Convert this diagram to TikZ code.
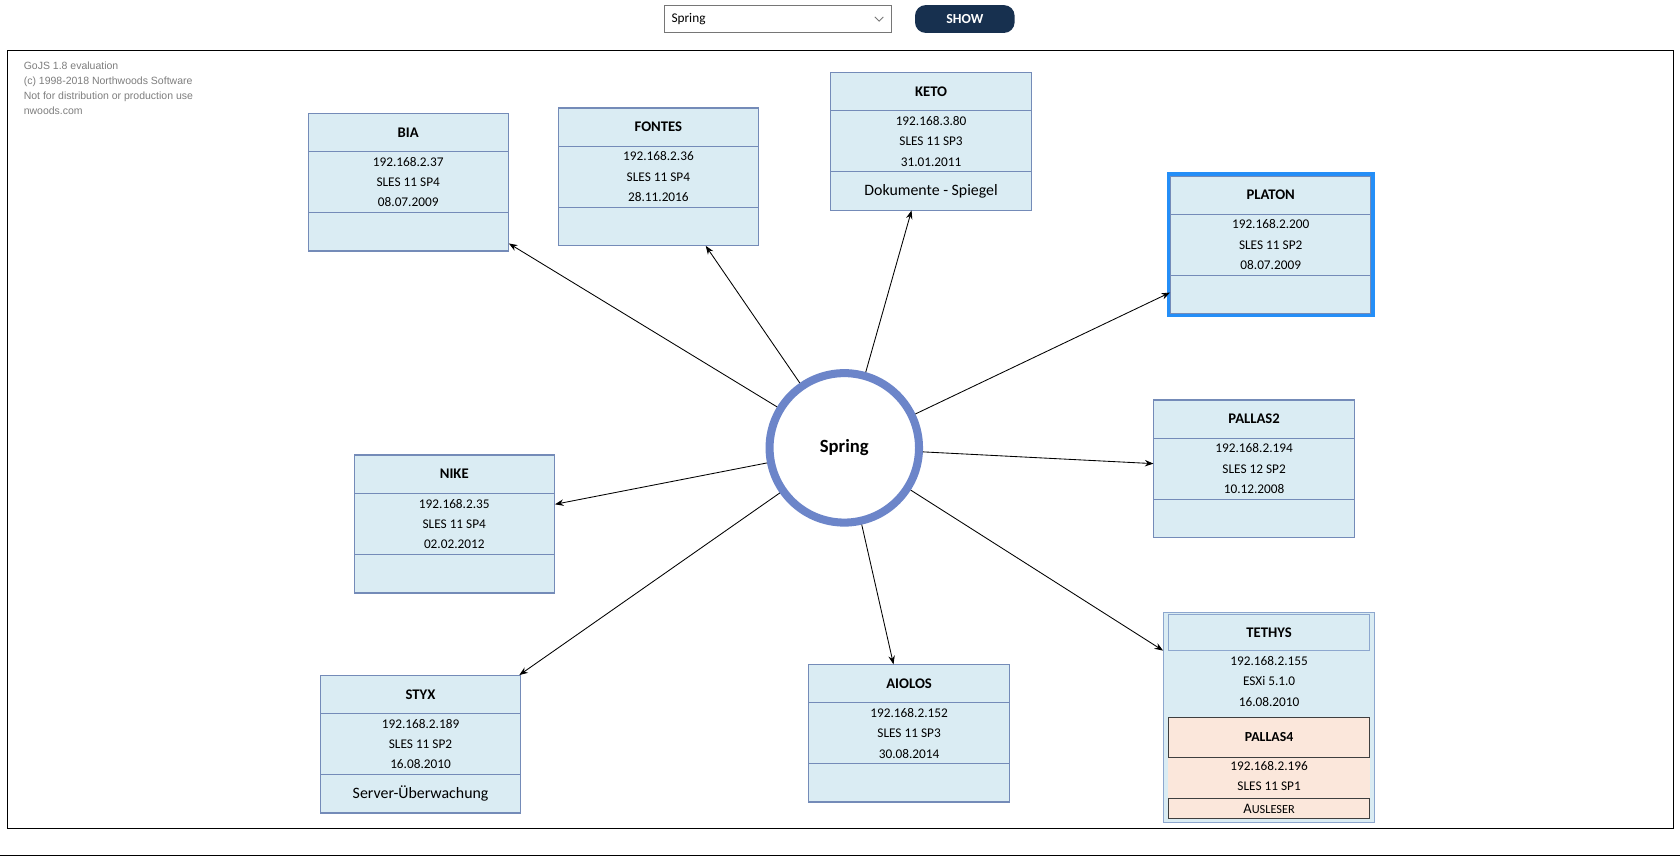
\documentclass[tikz,border=0pt]{standalone}
\usepackage{fontspec}
\setmainfont{Carlito}
\newfontfamily\gojsfont{Liberation Sans}
\usepackage{tikz}
\usetikzlibrary{arrows.meta,positioning,fit}
\usepackage{xcolor}
\definecolor{srvfill}{RGB}{218,236,243}
\definecolor{srvline}{RGB}{116,139,184}
\definecolor{groupline}{RGB}{141,167,206}
\definecolor{selblue}{RGB}{36,142,247}
\definecolor{ringblue}{RGB}{108,133,201}
\definecolor{peach}{RGB}{251,231,219}
\definecolor{peachline}{RGB}{62,62,62}
\definecolor{navy}{RGB}{23,48,79}
\definecolor{wmgray}{RGB}{125,125,125}
\definecolor{selectgray}{RGB}{118,118,118}
\tikzstyle{arrow} = [->, >={Stealth[length=8pt,width=6pt]}, line width=0.8pt, black]
\tikzstyle{server} = [rectangle, draw=srvline, fill=srvfill, line width=0.9pt, minimum width=187pt, minimum height=128pt, inner sep=0pt]
\tikzstyle{srvhead} = [rectangle, draw=srvline, line width=0.9pt, minimum width=187pt, minimum height=36pt, inner sep=0pt, outer sep=0pt, font=\fontsize{13.7}{16}\selectfont\bfseries]
\tikzstyle{srvfoot} = [rectangle, draw=srvline, line width=0.9pt, minimum width=187pt, minimum height=36pt, inner sep=0pt, outer sep=0pt, font=\fontsize{14.8}{17}\selectfont]
\tikzstyle{srvbody} = [align=center, inner sep=0pt, font=\fontsize{12.4}{19}\selectfont]
\tikzstyle{group} = [rectangle, draw=groupline, fill=srvfill, line width=0.9pt, minimum width=197pt, minimum height=196pt, inner sep=0pt]
\tikzstyle{grouphead} = [rectangle, draw=groupline, line width=0.9pt, minimum width=188pt, minimum height=34pt, inner sep=0pt, outer sep=0pt, font=\fontsize{13.7}{16}\selectfont\bfseries]
\tikzstyle{vmbox} = [rectangle, fill=peach, minimum width=188pt, minimum height=94pt, inner sep=0pt]
\tikzstyle{vmhead} = [rectangle, draw=peachline, line width=0.9pt, minimum width=188pt, minimum height=37pt, inner sep=0pt, outer sep=0pt, font=\fontsize{12.9}{15}\selectfont\bfseries]
\tikzstyle{vmfoot} = [rectangle, draw=peachline, line width=0.9pt, minimum width=188pt, minimum height=19pt, inner sep=0pt, outer sep=0pt, font=\fontsize{13.5}{14}\selectfont]
\tikzstyle{hub} = [circle, draw=ringblue, fill=white, line width=7.5pt, minimum size=139.5pt, font=\fontsize{17.4}{20}\selectfont\bfseries]

\begin{document}
\begin{tikzpicture}[x=1pt, y=-1pt]
\useasboundingbox (0,0) rectangle (1568,800);

% Toolbar
\node (select) [draw=selectgray, line width=0.9pt, minimum width=212pt, minimum height=25.5pt, inner sep=0pt] at (726,17.75) {};
\node (selecttext) [right=7pt of select.west, inner sep=0pt, font=\fontsize{12.4}{14}\selectfont] {Spring};
\draw[selectgray, line width=0.8pt] (select.east) ++(-16,-2) -- ++(4,4) -- ++(4,-4);
\node (show) [fill=navy, rounded corners=10pt, minimum width=93pt, minimum height=26pt, text=white, font=\fontsize{12.9}{15}\selectfont\bfseries] at (900.5,17.75) {SHOW};

% Diagram frame
\draw[line width=1.2pt] (7,47) rectangle (1562,773);
\draw[line width=1.2pt] (0,798.5) -- (1568,798.5);

% Watermark
\node (watermark) [anchor=north west, inner sep=0pt, align=left, text=wmgray, font=\gojsfont\fontsize{9.8}{14}\selectfont] at (22,58) {GoJS 1.8 evaluation\\(c) 1998-2018 Northwoods Software\\Not for distribution or production use\\nwoods.com};

% Center
\node (spring) [hub] at (788,418) {Spring};

% Servers
\node (bia) [server] at (381,170) {};
\node [srvhead, below=0pt of bia.north] {BIA};
\node [srvbody] at (bia) {192.168.2.37\\SLES 11 SP4\\08.07.2009};
\node [srvfoot, above=0pt of bia.south] {};

\node (fontes) [server] at (614.5,165) {};
\node [srvhead, below=0pt of fontes.north] {FONTES};
\node [srvbody] at (fontes) {192.168.2.36\\SLES 11 SP4\\28.11.2016};
\node [srvfoot, above=0pt of fontes.south] {};

\node (keto) [server] at (869,132) {};
\node [srvhead, below=0pt of keto.north] {KETO};
\node [srvbody] at (keto) {192.168.3.80\\SLES 11 SP3\\31.01.2011};
\node [srvfoot, above=0pt of keto.south] {Dokumente - Spiegel};

\node (platon) [server] at (1186,228.5) {};
\node [srvhead, below=0pt of platon.north] {PLATON};
\node [srvbody] at (platon) {192.168.2.200\\SLES 11 SP2\\08.07.2009};
\node [srvfoot, above=0pt of platon.south] {};
\node (platonsel) [draw=selblue, line width=3.5pt, fit=(platon), inner sep=1.5pt] {};

\node (pallas2) [server] at (1170.5,437.5) {};
\node [srvhead, below=0pt of pallas2.north] {PALLAS2};
\node [srvbody] at (pallas2) {192.168.2.194\\SLES 12 SP2\\10.12.2008};
\node [srvfoot, above=0pt of pallas2.south] {};

\node (nike) [server] at (424,489) {};
\node [srvhead, below=0pt of nike.north] {NIKE};
\node [srvbody] at (nike) {192.168.2.35\\SLES 11 SP4\\02.02.2012};
\node [srvfoot, above=0pt of nike.south] {};

\node (styx) [server] at (392.5,694.5) {};
\node [srvhead, below=0pt of styx.north] {STYX};
\node [srvbody] at (styx) {192.168.2.189\\SLES 11 SP2\\16.08.2010};
\node [srvfoot, above=0pt of styx.south] {Server-Überwachung};

\node (aiolos) [server] at (848.5,684.5) {};
\node [srvhead, below=0pt of aiolos.north] {AIOLOS};
\node [srvbody] at (aiolos) {192.168.2.152\\SLES 11 SP3\\30.08.2014};
\node [srvfoot, above=0pt of aiolos.south] {};

% Host with guest
\node (tethys) [group] at (1184.5,670) {};
\node (tethyshead) [grouphead, below=2pt of tethys.north] {TETHYS};
\node [srvbody] at (1184.5,636) {192.168.2.155\\ESXi 5.1.0\\16.08.2010};
\node (pallas4) [vmbox] at (1184.5,717) {};
\node [vmhead, below=0pt of pallas4.north] {PALLAS4};
\node [srvbody] at (1184.5,724) {192.168.2.196\\SLES 11 SP1};
\node [vmfoot, above=0pt of pallas4.south] {A\fontsize{11.5}{12}\selectfont USLESER};

% Arrows
\draw[arrow] (spring) -- (bia);
\draw[arrow] (spring) -- (fontes);
\draw[arrow] (spring) -- (keto);
\draw[arrow] (spring) -- (platon);
\draw[arrow] (spring) -- (pallas2);
\draw[arrow] (spring) -- (nike);
\draw[arrow] (spring) -- (styx);
\draw[arrow] (spring) -- (aiolos);
\draw[arrow] (spring) -- (tethys);
\end{tikzpicture}
\end{document}
